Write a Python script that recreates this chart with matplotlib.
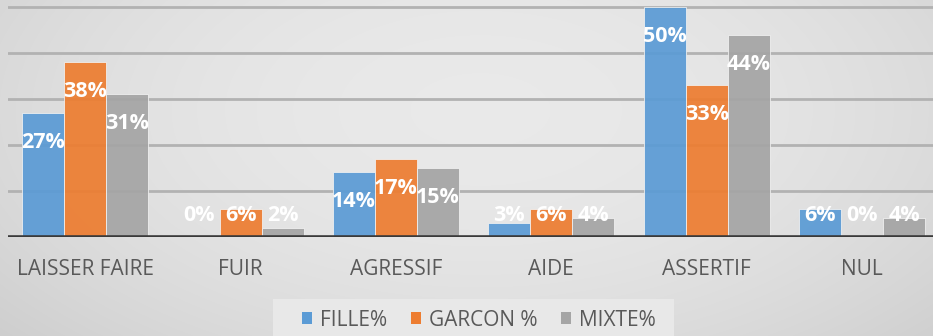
import numpy as np
import matplotlib
matplotlib.use("Agg")
import matplotlib.pyplot as plt
from matplotlib.patches import Patch, Rectangle

categories = ["LAISSER FAIRE", "FUIR", "AGRESSIF", "AIDE", "ASSERTIF", "NUL"]
series_names = ["FILLE%", "GARCON %", "MIXTE%"]
fille = [0.27, 0.00, 0.14, 0.03, 0.50, 0.06]
garcon = [0.38, 0.06, 0.17, 0.06, 0.33, 0.00]
mixte = [0.31, 0.02, 0.15, 0.04, 0.44, 0.04]
series = [fille, garcon, mixte]
colors = ["#5b9bd5", "#ed7d31", "#a5a5a5"]

FONT = ["Open Sans", "DejaVu Sans"]

W, H = 933, 336
fig = plt.figure(figsize=(W / 100, H / 100), dpi=100)

# soft grey backdrop, lighter toward the middle
bg = fig.add_axes([0, 0, 1, 1], zorder=0)
yy, xx = np.mgrid[0:H, 0:W]
r = np.sqrt(((xx - 480) / 620.0) ** 2 + ((yy - 110) / 330.0) ** 2)
shade = np.clip(0.915 - 0.10 * r ** 2, 0.80, 0.92)
bg.imshow(np.dstack([shade] * 3), aspect="auto", extent=[0, 1, 0, 1], origin="upper")
bg.set_axis_off()

base_px = 236.7
px_per_unit = 459.0
left = 7.7 / W
right = 939.7 / W
ax = fig.add_axes([left, 1 - base_px / H, right - left, base_px / H], zorder=1)
ax.patch.set_alpha(0)
ax.set_xlim(-0.5, len(categories) - 0.5)
ax.set_ylim(0, base_px / px_per_unit)

for g in [0.1, 0.2, 0.3, 0.4, 0.5]:
    ax.axhline(g, color="#b2b2b2", lw=2.0, zorder=1)
ax.axhline(0, color="#3a3a3a", lw=2.6, zorder=4)

x = np.arange(len(categories))
bw = 0.27
for i, (vals, col) in enumerate(zip(series, colors)):
    xs = x + (i - 1) * bw
    ax.bar(xs, vals, width=bw, color=col, alpha=0.93, edgecolor="#f2f2f2",
           linewidth=0.6, zorder=2)
    for xv, v in zip(xs, vals):
        ylab = max(v - 35 / px_per_unit, 16 / px_per_unit)
        ax.text(xv, ylab, f"{round(v * 100):d}%", ha="center", va="baseline",
                color="white", fontsize=15.5, fontweight="bold",
                family=FONT, zorder=5)

ax.set_xticks(x)
ax.set_xticklabels(categories, fontsize=15, color="#595959", family=FONT)
ax.tick_params(axis="x", length=0, pad=16)
ax.set_yticks([])
for s in ax.spines.values():
    s.set_visible(False)

# legend panel
fig.patches.append(Rectangle((273 / W, 0), (674 - 273) / W, (H - 299) / H,
                             transform=fig.transFigure, facecolor="#e8e8e8",
                             edgecolor="none", zorder=2))
handles = [Patch(facecolor=c, edgecolor="none") for c in colors]
leg = fig.legend(handles, series_names, loc="center", ncol=3,
                 bbox_to_anchor=(479 / W, 1 - 320 / H), frameon=False,
                 handlelength=0.48, handleheight=0.48, handletextpad=0.38,
                 columnspacing=1.15, prop={"family": FONT, "size": 15})
leg.set_zorder(3)
for t in leg.get_texts():
    t.set_color("#595959")

fig.savefig("out.png", dpi=100)
